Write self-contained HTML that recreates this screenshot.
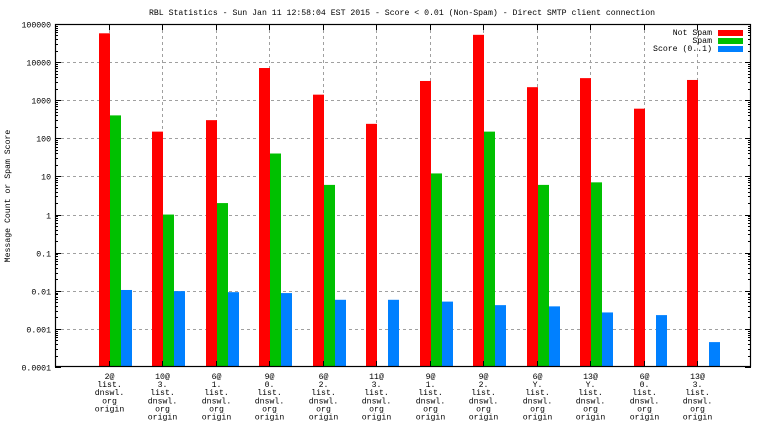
<!DOCTYPE html>
<html><head><meta charset="utf-8"><style>
body{margin:0;background:#fff;}
svg text{font-family:"Liberation Mono",monospace;font-size:8.2px;fill:#000;}
</style></head><body>
<svg id="c" width="768" height="432" xmlns="http://www.w3.org/2000/svg">
<rect width="768" height="432" fill="#fff"/>
<text x="402" y="15" text-anchor="middle">RBL Statistics - Sun Jan 11 12:58:04 EST 2015 - Score &lt; 0.01 (Non-Spam) - Direct SMTP client connection</text>
<text transform="translate(10,196) rotate(-90)" text-anchor="middle">Message Count or Spam Score</text>
<g id="grid"></g><g id="bars"></g><g id="axes"></g>
<g>
<text x="712" y="35" text-anchor="end">Not Spam</text>
<rect x="718" y="30" width="25" height="6" fill="#ff0000"/>
<text x="712" y="43" text-anchor="end">Spam</text>
<rect x="718" y="38" width="25" height="6" fill="#00c000"/>
<text x="712" y="51" text-anchor="end">Score (0..1)</text>
<rect x="718" y="46" width="25" height="6" fill="#0080ff"/>
</g>
</svg>
<script>
const categories=[["2@","list.","dnswl.","org","origin"],["10@","3.","list.","dnswl.","org","origin"],["6@","1.","list.","dnswl.","org","origin"],["9@","0.","list.","dnswl.","org","origin"],["6@","2.","list.","dnswl.","org","origin"],["11@","3.","list.","dnswl.","org","origin"],["9@","1.","list.","dnswl.","org","origin"],["9@","2.","list.","dnswl.","org","origin"],["6@","Y.","list.","dnswl.","org","origin"],["13@","Y.","list.","dnswl.","org","origin"],["6@","0.","list.","dnswl.","org","origin"],["13@","3.","list.","dnswl.","org","origin"]];
const notSpam=[57000,150,300,7000,1400,240,3200,52000,2200,3800,600,3400];
const spam=[400,1,2,40,6,null,12,150,6,7,null,null];
const score=[0.0105,0.0098,0.0092,0.0087,0.0058,0.0058,0.0052,0.0042,0.0039,0.0027,0.0023,0.00045];
const yTicks=["0.0001","0.001","0.01","0.1","1","10","100","1000","10000","100000"];
const NS="http://www.w3.org/2000/svg";
const L=55,R=751,T=24,B=367,minE=-4,maxE=5;
function y(v){return B-(Math.log10(v)-minE)/(maxE-minE)*(B-T);}
function xc(i){return L+(R-L)/(categories.length+1)*(i+1);}
function mk(tag,attrs,parent){const e=document.createElementNS(NS,tag);for(const k in attrs)e.setAttribute(k,attrs[k]);parent.appendChild(e);return e;}
const grid=document.getElementById('grid'),bars=document.getElementById('bars'),axes=document.getElementById('axes');
yTicks.forEach((t,i)=>{const yy=Math.round(y(+t))+0.5;
 if(i>0&&i<yTicks.length-1){const g=mk('line',{x1:L,x2:R,y1:yy,y2:yy,stroke:'#a0a0a0','stroke-dasharray':'3,3'},grid);
 
 }
 const tx=mk('text',{x:L-4,y:yy+3,'text-anchor':'end'},axes);tx.textContent=t;
 
 
 mk('line',{x1:L,x2:L+6,y1:yy,y2:yy,stroke:'#000'},axes);mk('line',{x1:R,x2:R-6,y1:yy,y2:yy,stroke:'#000'},axes);
 if(i<yTicks.length-1){for(let m=2;m<10;m++){const my=Math.round(y(+t*m))+0.5;mk('line',{x1:L,x2:L+3,y1:my,y2:my,stroke:'#000'},axes);mk('line',{x1:R,x2:R-3,y1:my,y2:my,stroke:'#000'},axes);}}
});
categories.forEach((c,i)=>{const cx=Math.round(xc(i))+0.5;
 const g=mk('line',{x1:cx,x2:cx,y1:T,y2:B,stroke:'#a0a0a0','stroke-dasharray':'3,3'},grid);
 
 
 mk('line',{x1:cx,x2:cx,y1:T,y2:T+6,stroke:'#000'},axes);mk('line',{x1:cx,x2:cx,y1:B,y2:B-6,stroke:'#000'},axes);
 const tx=mk('text',{x:cx,y:379,'text-anchor':'middle'},axes);
 
 
 c.forEach((ln,j)=>{const s=mk('tspan',{x:cx,dy:j?8.1:0},tx);s.textContent=ln;});
 const x0=Math.round(xc(i))-10;
 [[notSpam,'#ff0000','bar-not-spam'],[spam,'#00c000','bar-spam'],[score,'#0080ff','bar-score']].forEach((s,k)=>{
  const v=s[0][i];if(v==null)return;const top=y(v);
  const r=mk('rect',{x:x0+k*11,y:top,width:11,height:B-top,fill:s[1]},bars);
  
  
 });
});
const fr=mk('rect',{x:L+0.5,y:T+0.5,width:R-L-1,height:B-T-1,fill:'none',stroke:'#000','stroke-width':1.2},axes);


</script>
</body></html>
